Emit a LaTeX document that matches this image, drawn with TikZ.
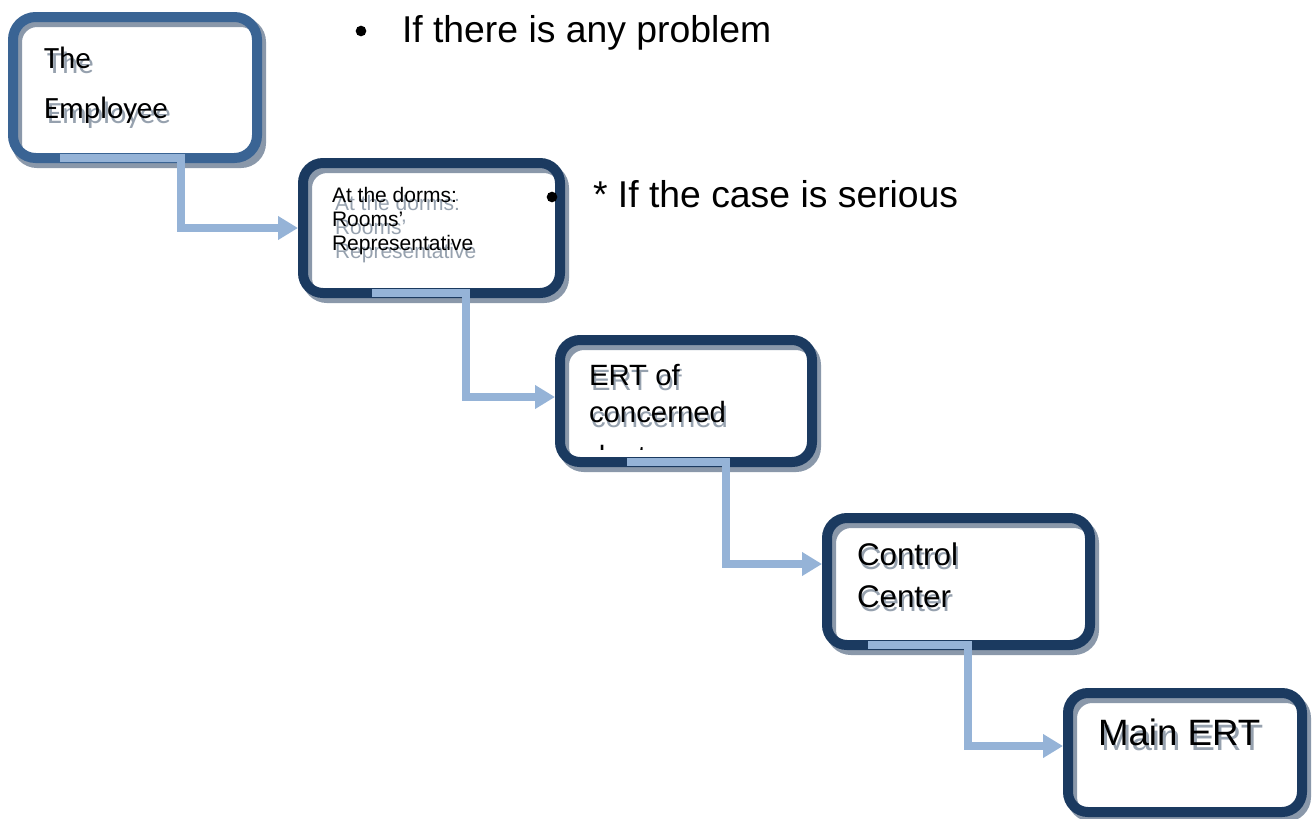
\documentclass[tikz,border=0pt]{standalone}
\usepackage{fontspec}
\setmainfont{Liberation Sans}
\newfontfamily\calibrifont{Carlito}
\usetikzlibrary{arrows.meta,calc}
\definecolor{boxA}{HTML}{3A6494}
\definecolor{boxB}{HTML}{1B3A60}
\definecolor{connc}{HTML}{95B3D7}
\definecolor{shad}{HTML}{8A98AA}
\definecolor{tshad}{HTML}{96A1AE}
% name, x, y, font, dx, dy, text
\newcommand\ltxt[7]{%
  \node[text=tshad,inner sep=0pt,outer sep=0pt,anchor=base west,font=#4] (#1s) at (#2+#5,#3+#6) {#7};
  \node[text=black,inner sep=0pt,outer sep=0pt,anchor=base west,font=#4] (#1) at (#2,#3) {#7};}
\begin{document}
\begin{tikzpicture}[x=0.75pt,y=-0.75pt,
  boxfill/.style={fill=white,draw=none,inner sep=0pt,outer sep=0pt,anchor=north west,rounded corners=15pt},
  boxline/.style={draw=boxB,line width=7.5pt,rounded corners=15pt},
  boxshadow/.style={draw=shad,line width=7.5pt,rounded corners=15pt},
  connline/.style={draw=connc,line width=6pt,line cap=butt,line join=miter,-{Triangle[width=17pt,length=15pt]}},
  bulletdot/.style={circle,fill=black,inner sep=0pt,minimum size=8pt}]
\useasboundingbox (0,0) rectangle (1313,818);
% box fills
\node[boxfill,minimum width=183pt,minimum height=105.75pt] (b1) at (13,17) {};
\node[boxfill,minimum width=192.75pt,minimum height=97.5pt] (b2) at (303,163) {};
\node[boxfill,minimum width=189pt,minimum height=91.5pt] (b3) at (560,340) {};
\node[boxfill,minimum width=197.25pt,minimum height=95.25pt] (b4) at (827,518) {};
\node[boxfill,minimum width=175.5pt,minimum height=89.25pt] (b5) at (1068,693) {};
% box shadows
\foreach \b in {b1,b2,b3,b4,b5}{
  \draw[boxshadow] ($(\b.north west)+(4,5)$) rectangle ($(\b.south east)+(4,5)$);
}
% box outlines
\draw[boxline,draw=boxA,rounded corners=17pt] (b1.north west) rectangle (b1.south east);
\foreach \b in {b2,b3,b4,b5}{
  \draw[boxline] (\b.north west) rectangle (\b.south east);
}
% texts inside boxes
\ltxt{t1a}{44}{68}{\calibrifont\fontsize{23.2}{28}\selectfont}{3}{5}{The}
\ltxt{t1b}{44}{118}{\calibrifont\fontsize{23.2}{28}\selectfont}{3}{5}{Employee}
\ltxt{t2a}{332}{202}{\fontsize{15.75}{18}\selectfont}{3}{8}{At the dorms:}
\ltxt{t2b}{332}{226}{\fontsize{15.75}{18}\selectfont}{3}{8}{Rooms\char"0027}
\ltxt{t2c}{332}{250}{\fontsize{15.75}{18}\selectfont}{3}{8}{Representative}
\ltxt{t3a}{589}{385}{\fontsize{22}{26}\selectfont}{2}{5}{ERT of}
\ltxt{t3b}{589}{422}{\fontsize{22}{26}\selectfont}{2}{5}{concerned}
\begin{scope}
  \clip (565,444) rectangle (800,449);
  \node[inner sep=0pt,outer sep=0pt,anchor=base west,font=\fontsize{22}{26}\selectfont] (t3c) at (589,466) {dept.};
\end{scope}
\ltxt{t4a}{857}{565}{\fontsize{23.5}{28}\selectfont}{2}{4}{Control}
\ltxt{t4b}{857}{607}{\fontsize{23.5}{28}\selectfont}{2}{4}{Center}
\ltxt{t5a}{1098}{745}{\fontsize{27.5}{32}\selectfont}{3}{5}{Main ERT}
% connectors
\draw[connline] ($(b1.south west)+(47,0)$) -- ($(b1.south west)+(168,0)$) |- ($(b2.west)+(-5,0)$);
\draw[connline] ($(b2.south west)+(69,0)$) -- ($(b2.south west)+(163,0)$) |- ($(b3.west)+(-5,-4)$);
\draw[connline] ($(b3.south west)+(67,0)$) -- ($(b3.south west)+(166,0)$) |- ($(b4.west)+(-5,-17.5)$);
\draw[connline] ($(b4.south west)+(41,0)$) -- ($(b4.south west)+(141,0)$) |- ($(b5.west)+(-5,-6.5)$);
% bullet texts
\node[bulletdot] (d1) at (361,31) {};
\node[inner sep=0pt,outer sep=0pt,anchor=base west,font=\fontsize{28}{32}\selectfont] (n1) at (402,42) {If there is any problem};
\node[bulletdot] (d2) at (552,197) {};
\node[inner sep=0pt,outer sep=0pt,anchor=base west,font=\fontsize{28}{32}\selectfont] (n2) at (593,207) {* If the case is serious};
\end{tikzpicture}
\end{document}
